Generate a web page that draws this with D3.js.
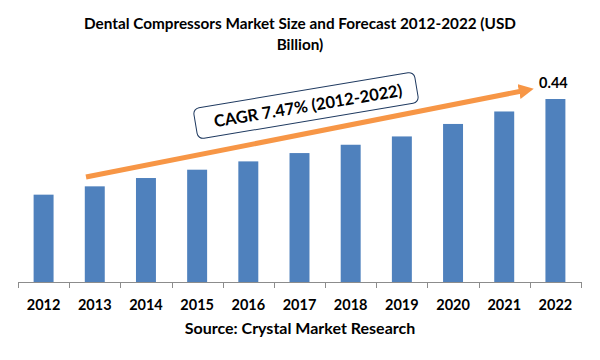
<!DOCTYPE html>
<html>
<head>
<meta charset="utf-8">
<script src="https://cdn.jsdelivr.net/npm/d3@7"></script>
<style>
body{margin:0;background:#fff;}
text{font-family:Lato,"Open Sans",sans-serif;font-weight:bold;fill:#000;}
</style>
</head>
<body>
<svg id="chart" width="600" height="360"></svg>
<script>
const years = ["2012","2013","2014","2015","2016","2017","2018","2019","2020","2021","2022"];
const values = [0.21,0.23,0.25,0.27,0.29,0.31,0.33,0.35,0.38,0.41,0.44];
const titleLines = ["Dental Compressors Market Size and Forecast 2012-2022 (USD","Billion)"];
const cagrLabel = "CAGR 7.47% (2012-2022)";
const sourceLabel = "Source: Crystal Market Research";
const lastLabel = "0.44";

const svg = d3.select("#chart");
const x = d3.scaleBand().domain(years).range([18,581]).paddingInner(0.61).paddingOuter(0.305);
const y = d3.scaleLinear().domain([0,0.44]).range([282,99]);

svg.selectAll("text.title").data(titleLines).enter().append("text")
  .attr("class","title").attr("x",300).attr("y",(d,i)=>29+i*21)
  .attr("text-anchor","middle").style("font-size","15.3px").text(d=>d);

svg.selectAll("rect.bar").data(values).enter().append("rect")
  .attr("class","bar").attr("x",(d,i)=>x(years[i])).attr("width",x.bandwidth())
  .attr("y",d=>y(d)).attr("height",d=>y(0)-y(d)).attr("fill","#4F81BD");

const band = x.step();
const ag = svg.append("g");
ag.append("line").attr("x1",18).attr("x2",581).attr("y1",282.5).attr("y2",282.5).attr("stroke","#8C8C8C");
const tickXs = d3.range(years.length+1).map(i=>18+i*band);
ag.selectAll("line.tick").data(tickXs).enter().append("line")
  .attr("x1",d=>Math.round(d)+0.5).attr("x2",d=>Math.round(d)+0.5).attr("y1",282).attr("y2",288).attr("stroke","#8C8C8C");
ag.selectAll("text.yr").data(years).enter().append("text")
  .attr("x",d=>x(d)+x.bandwidth()/2).attr("y",310).attr("text-anchor","middle")
  .style("font-size","14.5px").text(d=>d);

svg.append("text").attr("x",300).attr("y",334).attr("text-anchor","middle").style("font-size","16px").text(sourceLabel);

svg.append("text").attr("x",x("2022")+x.bandwidth()/2-2).attr("y",88).attr("text-anchor","middle").style("font-size","14.5px").text(lastLabel);

// arrow
const defs = svg.append("defs");
defs.append("marker").attr("id","ah").attr("viewBox","0 0 10 10").attr("refX",2).attr("refY",5)
  .attr("markerWidth",3).attr("markerHeight",3).attr("orient","auto")
  .append("path").attr("d","M0,0 L10,5 L0,10 z").attr("fill","#F79646");
svg.append("line").attr("x1",86).attr("y1",177).attr("x2",522).attr("y2",91)
  .attr("stroke","#F79646").attr("stroke-width",5).attr("marker-end","url(#ah)");

// CAGR box
const g = svg.append("g").attr("transform","translate(306,105.5) rotate(-9.5)");
g.append("rect").attr("x",-112).attr("y",-15.5).attr("width",224).attr("height",31).attr("rx",6)
  .attr("fill","#fff").attr("stroke","#1F3A60").attr("stroke-width",1);
g.append("text").attr("x",2).attr("y",6.5).attr("text-anchor","middle").style("font-size","16.5px").text(cagrLabel);
</script>
</body>
</html>
